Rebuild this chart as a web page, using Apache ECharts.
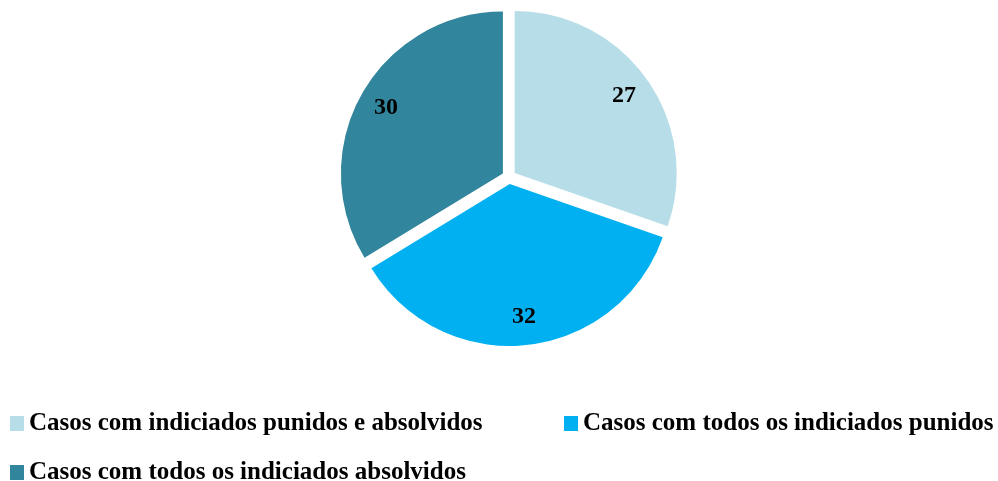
<!DOCTYPE html>
<html>
<head>
<meta charset="utf-8">
<script src="https://cdn.jsdelivr.net/npm/echarts@6/dist/echarts.min.js"></script>
<style>
  html, body { margin: 0; padding: 0; background: #fff; }
  #chart { width: 998px; height: 481px; }
</style>
</head>
<body>
<div id="chart"></div>
<script>
const categories = [
  'Casos com indiciados punidos e absolvidos',
  'Casos com todos os indiciados punidos',
  'Casos com todos os indiciados absolvidos'
];
const values = [27, 32, 30];
const colors = ['#B7DEE8', '#00B0F0', '#31859C'];

const myChart = echarts.init(document.getElementById('chart'));

const font = '"Liberation Serif", "Times New Roman", serif';
const center = [509, 177];

const pieData = categories.map((name, i) => ({
  name: name,
  value: values[i],
  selected: true,
  itemStyle: { color: colors[i] }
}));

function legend(i, left, top) {
  return {
    data: [categories[i]],
    left: left,
    top: top,
    padding: 0,
    itemWidth: 14,
    itemHeight: 15,
    icon: 'rect',
    selectedMode: false,
    textStyle: { fontFamily: font, fontWeight: 'bold', fontSize: 25, color: '#000' }
  };
}

const option = {
  animation: false,
  legend: [
    legend(0, 10, 411),
    legend(1, 564, 411),
    legend(2, 10, 460)
  ],
  series: [
    {
      name: 'casos',
      type: 'pie',
      center: center,
      radius: [0, 162],
      selectedMode: 'multiple',
      selectedOffset: 7,
      data: pieData,
      label: { show: false },
      labelLine: { show: false },
      emphasis: { scale: false }
    },
    {
      name: 'rotulos',
      type: 'pie',
      silent: true,
      center: center,
      radius: [100, 162],
      selectedMode: 'multiple',
      selectedOffset: 7,
      data: categories.map((name, i) => ({ name: name, value: values[i], selected: true })),
      itemStyle: { color: 'rgba(0,0,0,0)' },
      label: {
        show: true,
        position: 'inside',
        formatter: '{c}',
        fontFamily: font,
        fontWeight: 'bold',
        fontSize: 24,
        color: '#000'
      },
      labelLine: { show: false }
    }
  ]
};

myChart.setOption(option);
</script>
</body>
</html>
